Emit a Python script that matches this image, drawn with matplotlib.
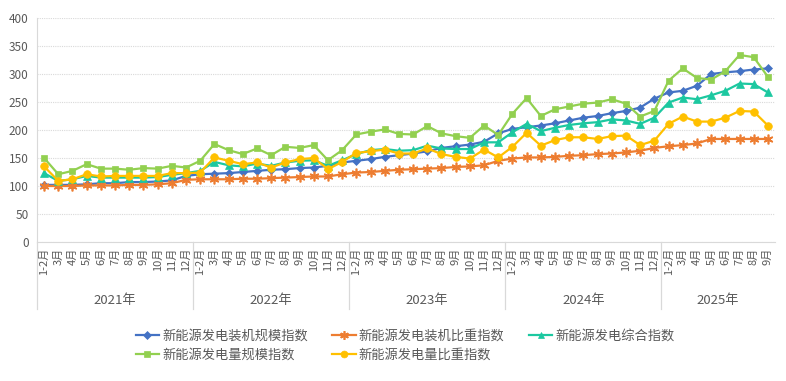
import matplotlib
matplotlib.use('Agg')
import matplotlib.pyplot as plt
from matplotlib.lines import Line2D

plt.rcParams['font.family'] = ['Noto Sans CJK SC', 'DejaVu Sans']

# 数据
years = ['2021年', '2022年', '2023年', '2024年', '2025年']
months = ['1-2月', '3月', '4月', '5月', '6月', '7月', '8月', '9月', '10月', '11月', '12月']
months_per_year = [11, 11, 11, 11, 8]

zjgm = [102, 102, 102, 103, 105, 105, 107, 107, 108, 110, 118,
        121, 122, 123, 125, 127, 129, 130, 132, 133, 136, 142,
        145, 148, 152, 155, 158, 162, 168, 171, 174, 179, 194,
        202, 205, 208, 212, 217, 222, 225, 230, 234, 240, 256,
        267, 270, 279, 300, 303, 305, 308, 310]
zjbz = [100, 100, 100, 101, 101, 101, 102, 102, 103, 105, 111,
        112, 112, 112, 113, 113, 114, 115, 116, 117, 117, 121,
        124, 125, 127, 129, 130, 131, 132, 134, 135, 137, 145,
        149, 151, 151, 152, 154, 155, 157, 158, 160, 163, 168,
        171, 173, 176, 184, 184, 184, 184, 184]
zh = [123, 109, 112, 118, 115, 115, 115, 115, 116, 120, 123,
      127, 143, 137, 135, 140, 136, 142, 145, 146, 136, 146,
      157, 164, 166, 163, 164, 172, 167, 166, 166, 178, 178,
      196, 211, 198, 204, 209, 212, 214, 219, 217, 211, 222,
      249, 258, 255, 262, 270, 283, 282, 267]
dlgm = [150, 121, 127, 139, 131, 131, 129, 132, 131, 136, 133,
        145, 175, 164, 157, 167, 155, 170, 168, 173, 146, 164,
        192, 197, 201, 193, 192, 207, 194, 189, 186, 208, 191,
        229, 257, 225, 237, 242, 247, 249, 255, 247, 224, 234,
        288, 310, 293, 290, 305, 334, 330, 295]
dlbz = [135, 109, 112, 121, 117, 118, 118, 118, 118, 123, 123,
        124, 151, 145, 139, 142, 133, 142, 148, 150, 130, 143,
        159, 162, 165, 158, 158, 167, 157, 152, 149, 165, 151,
        170, 195, 172, 182, 187, 187, 184, 189, 190, 173, 181,
        211, 224, 215, 215, 222, 234, 233, 208]

series = [
    ('新能源发电装机规模指数', zjgm, '#4472C4', 'D', 4.5),
    ('新能源发电装机比重指数', zjbz, '#ED7D31', (6, 2, 0), 7),
    ('新能源发电综合指数', zh, '#1CC8A0', '^', 5.5),
    ('新能源发电量规模指数', dlgm, '#92D050', 's', 5),
    ('新能源发电量比重指数', dlbz, '#FFC000', 'o', 5.5),
]

labels = []
for y, n in zip(years, months_per_year):
    labels += months[:n]
x = list(range(len(labels)))

fig = plt.figure(figsize=(7.86, 3.81), dpi=100)
ax = fig.add_axes([37 / 786, 1 - 242 / 381, (775 - 37) / 786, 224 / 381])

for name, vals, color, marker, ms in series:
    ax.plot(x, vals, color=color, marker=marker, markersize=ms, linewidth=1.6,
            markeredgewidth=1.2 if marker == (6, 2, 0) else 0.5, label=name)

ax.set_xlim(-0.5, len(labels) - 0.5)
ax.set_ylim(0, 400)
ax.set_yticks(range(0, 401, 50))
ax.tick_params(axis='y', length=0, labelsize=8.5, colors='#595959', pad=6)
ax.grid(axis='y', color='#D9D9D9', linestyle=(0, (1, 1)), linewidth=0.8)
ax.set_axisbelow(True)

ax.set_xticks(x)
ax.set_xticklabels(labels, rotation=90, fontsize=8, color='#595959')
ax.tick_params(axis='x', length=0, pad=4)

for side in ['top', 'right']:
    ax.spines[side].set_visible(False)
ax.spines['left'].set_color('#D9D9D9')
ax.spines['bottom'].set_color('#D9D9D9')

# 年份分组
trans = ax.get_xaxis_transform()
start = 0
for y, n in zip(years, months_per_year):
    ax.text(start + n / 2 - 0.5, -0.26, y, transform=trans, ha='center',
            va='center', fontsize=9.5, color='#595959')
    ax.plot([start - 0.5, start - 0.5], [0, -0.3], transform=trans,
            color='#D9D9D9', linewidth=0.9, clip_on=False)
    start += n

handles = [Line2D([0], [0], color=c, marker=m, markersize=ms * 0.9, linewidth=1.6,
                  markeredgewidth=1.2 if m == (6, 2, 0) else 0.5)
           for _, _, c, m, ms in series]
names = [s[0] for s in series]
order = [0, 3, 1, 4, 2]
fig.legend([handles[i] for i in order], [names[i] for i in order],
           loc='upper left', bbox_to_anchor=(125 / 786, 1 - 319 / 381),
           ncol=3, frameon=False, fontsize=9.5, labelcolor='#595959',
           handlelength=1.8, handletextpad=0.2, columnspacing=1.85,
           labelspacing=0.45, borderpad=0.3)

fig.savefig('out.png', dpi=100)
